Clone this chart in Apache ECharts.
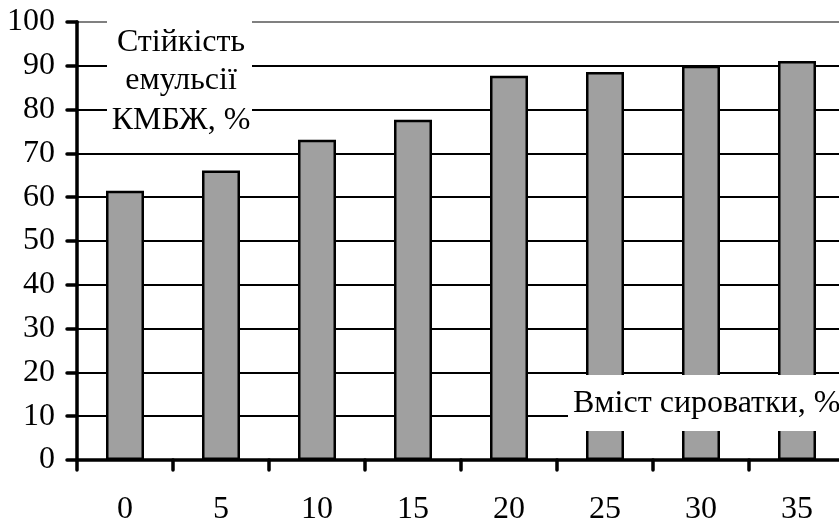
<!DOCTYPE html>
<html>
<head>
<meta charset="utf-8">
<script src="https://cdn.jsdelivr.net/npm/echarts@6/dist/echarts.min.js"></script>
<style>
html,body{margin:0;padding:0;background:#fff;}
#chart{width:839px;height:522px;}
</style>
</head>
<body>
<div id="chart"></div>
<script>
const categories = ['0', '5', '10', '15', '20', '25', '30', '35'];
const stability = [61.5, 66.1, 73.1, 77.7, 87.7, 88.6, 90.0, 91.1];
const yTitleLines = ['Стійкість', 'емульсії', 'КМБЖ, %'];
const xTitle = 'Вміст сироватки, %';

const FONT = '"Liberation Serif", "Times New Roman", serif';
const FS = 32;
const chart = echarts.init(document.getElementById('chart'), null, {renderer: 'canvas'});

const gridColors = [];
for (let i = 0; i <= 10; i++) gridColors.push(i === 10 ? '#808080' : '#000');

chart.setOption({
  animation: false,
  backgroundColor: '#fff',
  grid: {left: 77, top: 22, width: 768, height: 438, containLabel: false, outerBoundsMode: 'none'},
  xAxis: {
    type: 'category',
    data: categories,
    axisLine: {show: true, lineStyle: {color: '#000', width: 3.5, cap: 'round'}},
    axisTick: {show: true, alignWithLabel: false, length: 10, lineStyle: {color: '#000', width: 3.5, cap: 'round'}},
    axisLabel: {color: '#000', fontFamily: FONT, fontSize: FS, margin: 34},
    splitLine: {show: false}
  },
  yAxis: {
    type: 'value',
    min: 0, max: 100, interval: 10,
    axisLine: {show: true, lineStyle: {color: '#000', width: 3.5, cap: 'round'}},
    axisTick: {show: true, length: 10, lineStyle: {color: '#000', width: 3.5, cap: 'round'}},
    axisLabel: {color: '#000', fontFamily: FONT, fontSize: FS, margin: 22},
    splitLine: {show: true, lineStyle: {color: gridColors, width: 2}}
  },
  series: [{
    type: 'bar',
    data: stability,
    barWidth: 38,
    itemStyle: {color: '#a0a0a0', borderColor: '#000', borderWidth: 2.5}
  }],
  graphic: [
    {type: 'rect', z: 100, shape: {x: 107, y: 12, width: 145, height: 128}, style: {fill: '#fff'}},
    {type: 'text', z: 101, style: {x: 181, y: 43, text: yTitleLines[0], font: FS + 'px ' + FONT, fill: '#000', align: 'center', verticalAlign: 'middle'}},
    {type: 'text', z: 101, style: {x: 181, y: 81, text: yTitleLines[1], font: FS + 'px ' + FONT, fill: '#000', align: 'center', verticalAlign: 'middle'}},
    {type: 'text', z: 101, style: {x: 181, y: 121, text: yTitleLines[2], font: FS + 'px ' + FONT, fill: '#000', align: 'center', verticalAlign: 'middle'}},
    {type: 'rect', z: 100, shape: {x: 568, y: 375, width: 280, height: 56}, style: {fill: '#fff'}},
    {type: 'text', z: 101, style: {x: 573, y: 404, text: xTitle, font: FS + 'px ' + FONT, fill: '#000', align: 'left', verticalAlign: 'middle'}}
  ]
});
</script>
</body>
</html>
